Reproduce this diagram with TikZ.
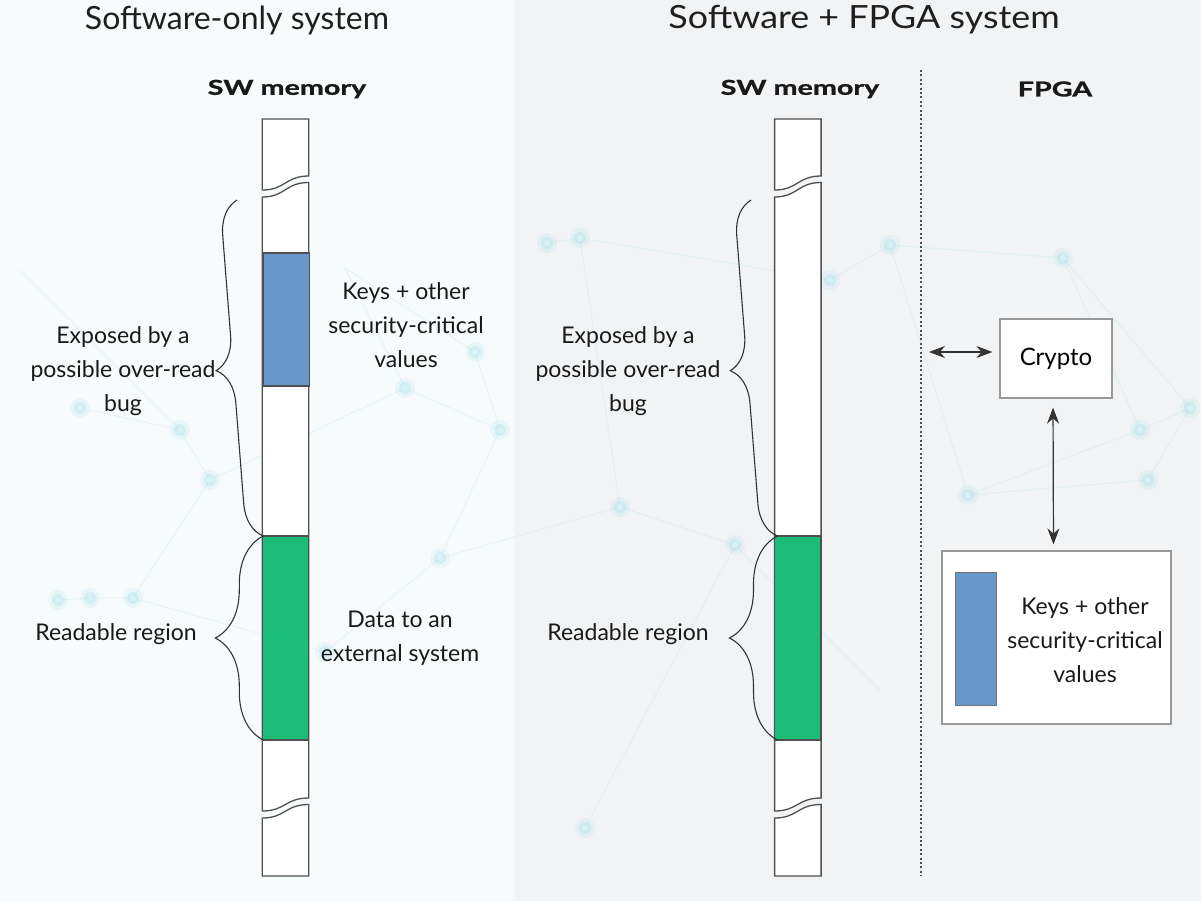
\documentclass[tikz,border=0pt]{standalone}
\usepackage{fontspec}
\setmainfont{Lato}
\newfontfamily\headfont[FakeStretch=1.4,FakeBold=1.2]{Lato}
\newfontfamily\wideheadfont[FakeStretch=1.12]{Lato}
\usetikzlibrary{arrows.meta,decorations.pathreplacing}

\definecolor{outline}{HTML}{505050}
\definecolor{keyblue}{HTML}{6897CB}
\definecolor{datagreen}{HTML}{1BBC77}
\definecolor{panelgrey}{HTML}{F1F3F4}
\definecolor{panelwhite}{HTML}{F8FBFC}
\definecolor{netline}{HTML}{BFE6F0}
\definecolor{netdot}{HTML}{A8E0EE}

\tikzset{
  cell/.style={draw=outline, line width=1.3bp},
  bracepath/.style={draw=black!80, line width=1.1bp, decorate,
    decoration={brace, amplitude=#1}},
  bodytext/.style={font=\fontsize{23bp}{34bp}\selectfont, align=center,
    text=black!90, inner sep=0pt},
  titletext/.style={font=\fontsize{32bp}{38bp}\selectfont, text=black!88,
    inner sep=0pt},
  headtext/.style={font=\headfont\bfseries\fontsize{20.5bp}{24bp}\selectfont,
    text=black!90, inner sep=0pt},
  box/.style={draw=black!40, line width=1.2bp, fill=white, inner sep=0pt},
  link/.style={draw=black!80, line width=1.2bp,
    {Stealth[length=16bp,width=12bp]}-{Stealth[length=16bp,width=12bp]}},
  net/.style={draw=netline, line width=0.9bp, opacity=0.35},
}

% one memory column with two breaks, left edge at #1, width 46.5
\newcommand{\memcolumn}[1]{%
  \begin{scope}[xshift=#1]
    \filldraw[cell, fill=white] (0,190) -- (0,119) -- (46.5,119) -- (46.5,176)
      .. controls (23,176) and (23,190) .. (0,190) -- cycle;
    \filldraw[cell, fill=white] (0,197) .. controls (23,197) and (23,182.5) .. (46.5,182.5)
      -- (46.5,798) .. controls (23,798) and (23,811) .. (0,811) -- cycle;
    \filldraw[cell, fill=white] (0,818) .. controls (23,818) and (23,804.5) .. (46.5,804.5)
      -- (46.5,876) -- (0,876) -- cycle;
    \filldraw[cell, fill=datagreen] (0,536) rectangle (46.5,740);
  \end{scope}}

\begin{document}
\begin{tikzpicture}[x=1bp, y=-1bp]
  \useasboundingbox (0,0) rectangle (1201,901);

  % backgrounds of the two panels
  \fill[panelwhite] (0,0) rectangle (515,901);
  \fill[panelgrey] (515,0) rectangle (1201,901);

  % faint network texture
  \draw[net] (58,600) -- (90,598) -- (133,598) -- (210,480) -- (180,430) -- (80,408);
  \draw[net] (133,598) -- (325,652) -- (440,558) -- (500,430) -- (405,388) -- (210,480);
  \draw[net] (405,388) -- (345,268) -- (475,352) -- (500,430);
  \draw[net] (440,558) -- (620,507) -- (580,238) -- (547,243);
  \draw[net] (580,238) -- (830,280) -- (890,245) -- (1063,258) -- (1190,408);
  \draw[net] (620,507) -- (735,545) -- (880,690);
  \draw[net] (968,495) -- (1140,430) -- (1190,408) -- (1148,480) -- (968,495);
  \draw[net] (890,245) -- (968,495);
  \draw[net] (585,828) -- (735,545);
  \draw[net] (1063,258) -- (1140,430);
  \draw[net] (20,270) -- (180,430);
  \foreach \p in {(58,600),(90,598),(133,598),(180,430),(210,480),(80,408),
      (325,652),(440,558),(500,430),(405,388),(475,352),(580,238),(547,243),
      (620,507),(585,828),(735,545),(890,245),(830,280),(1063,258),(968,495),
      (1140,430),(1190,408),(1148,480)} {
    \fill[netdot, opacity=0.18] \p circle (10bp);
    \fill[netdot, opacity=0.35] \p circle (6bp);
    \fill[white!60!netdot, opacity=0.8] \p circle (3bp);
  }

  % titles and column headings
  \node[titletext] (t1) at (237,20) {Software-only system};
  \node[titletext, font=\wideheadfont\fontsize{32bp}{38bp}\selectfont] (t2) at (864,20)
    {Software + FPGA system};
  \node[headtext] (h1) at (287,89) {SW memory};
  \node[headtext] (h2) at (800,89) {SW memory};
  \node[headtext] (h3) at (1055,89) {FPGA};

  % software-only memory column
  \memcolumn{263.3}
  \filldraw[cell, fill=keyblue] (263.3,253) rectangle (309.8,386);

  % software + FPGA memory column
  \memcolumn{777.5}

  % braces, left panel
  \draw[bracepath=34bp] (263.3,536) -- (237,200);
  \draw[bracepath=48bp] (263.3,740) -- (263.3,536);
  % braces, right panel
  \draw[bracepath=34bp] (777.5,536) -- (751,200);
  \draw[bracepath=48bp] (777.5,740) -- (777.5,536);

  % labels, left panel
  \node[bodytext] (exp1) at (123,371) {Exposed by a\\possible over-read\\bug};
  \node[bodytext] (read1) at (116,634) {Readable region};
  \node[bodytext] (keys1) at (406,325) {Keys + other\\security-critical\\values};
  \node[bodytext] (data1) at (400,638) {Data to an\\external system};

  % labels, right panel
  \node[bodytext] (exp2) at (628,371) {Exposed by a\\possible over-read\\bug};
  \node[bodytext] (read2) at (628,634) {Readable region};

  % FPGA side
  \draw[outline, line width=2bp, dash pattern=on 2bp off 2.4bp] (921,70) -- (921,876);
  \node[box, minimum width=112bp, minimum height=79bp] (crypto) at (1056,358.5)
    {\fontsize{24bp}{34bp}\selectfont Crypto};
  \node[box, minimum width=229bp, minimum height=173bp] (store) at (1056.5,637.5) {};
  \filldraw[draw=black!55, line width=1bp, fill=keyblue] (955,572) rectangle (996,705);
  \node[bodytext] (keys2) at (1085,640) {Keys + other\\security-critical\\values};

  \coordinate (bus) at (929,352);
  \draw[link, shorten >=7bp] (bus) -- (bus -| crypto.west);
  \draw[link, shorten <=9bp, shorten >=6bp] ([xshift=-3bp]crypto.south) -- ([xshift=-3bp]store.north);
\end{tikzpicture}
\end{document}
